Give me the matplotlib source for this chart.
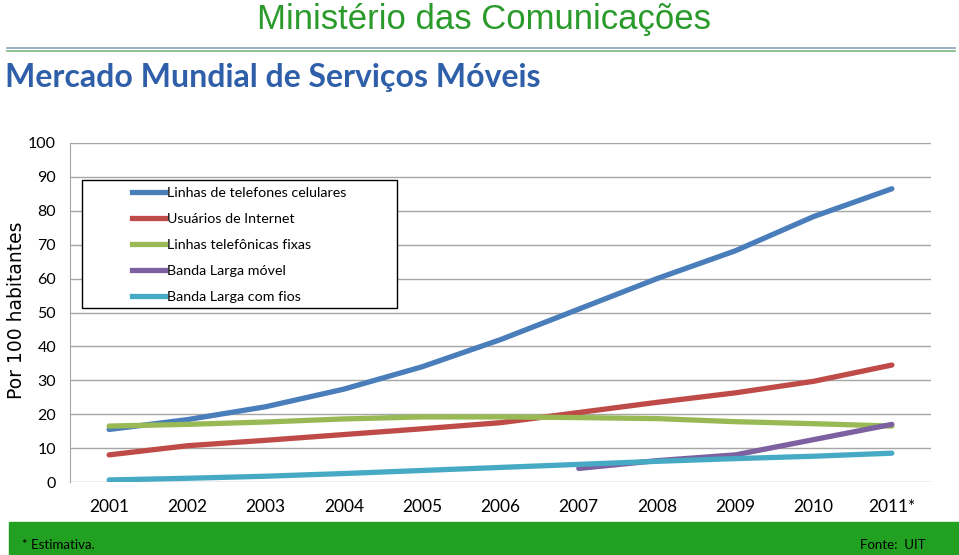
import matplotlib
matplotlib.use("Agg")
import matplotlib.pyplot as plt
from matplotlib.lines import Line2D
import numpy as np

years = ["2001", "2002", "2003", "2004", "2005", "2006", "2007", "2008", "2009", "2010", "2011*"]
celulares = [15.5, 18.4, 22.2, 27.4, 34.0, 42.0, 51.0, 60.0, 68.2, 78.3, 86.5]
internet = [8.0, 10.7, 12.3, 14.0, 15.7, 17.5, 20.5, 23.5, 26.3, 29.7, 34.5]
fixas = [16.5, 17.0, 17.7, 18.6, 19.2, 19.2, 19.0, 18.7, 17.8, 17.2, 16.5]
bl_movel = [None, None, None, None, None, None, 4.0, 6.3, 8.0, 12.5, 17.0]
bl_fios = [0.6, 1.1, 1.7, 2.5, 3.4, 4.3, 5.2, 6.1, 6.9, 7.6, 8.5]
series_names = ["Linhas de telefones celulares", "Usuários de Internet",
                "Linhas telefônicas fixas", "Banda Larga móvel", "Banda Larga com fios"]
yticks = [0, 10, 20, 30, 40, 50, 60, 70, 80, 90, 100]

colors = ["#4a7ebb", "#be4b48", "#98b954", "#7d60a0", "#46aac5"]
W, H = 959, 555
fig = plt.figure(figsize=(W / 100, H / 100), dpi=100)

ax = fig.add_axes([70 / W, 1 - 482 / H, (931 - 70) / W, (482 - 143) / H])
x = np.arange(len(years))
data = [celulares, internet, fixas, bl_movel, bl_fios]
for vals, c in zip(data, colors):
    v = np.array([np.nan if a is None else a for a in vals], dtype=float)
    ax.plot(x, v, color=c, lw=3.8, solid_capstyle="round", solid_joinstyle="round", zorder=3)

ax.set_xlim(-0.5, len(years) - 0.5)
ax.set_ylim(0, 100)
ax.set_yticks(yticks)
ax.set_xticks(x)
ax.set_xticklabels(years)
ax.grid(axis="y", color="#a6a6a6", lw=1.0)
ax.set_axisbelow(True)
for s in ["top", "right", "bottom"]:
    ax.spines[s].set_visible(False)
ax.spines["left"].set_color("#a6a6a6")
ax.tick_params(axis="y", length=0, labelsize=11.5, pad=10)
ax.tick_params(axis="x", length=0, labelsize=12.5, pad=12)
for lab in ax.get_xticklabels() + ax.get_yticklabels():
    lab.set_fontfamily("Lato")

# legend frame drawn manually
fig.patches.append(plt.Rectangle((82 / W, 1 - 308 / H), (397 - 82) / W, (308 - 180) / H,
                                 transform=fig.transFigure, facecolor="white",
                                 edgecolor="black", lw=1.0, zorder=4))
handles = [Line2D([0], [0], color=c, lw=3.8) for c in colors]
leg = fig.legend(handles, series_names, loc="upper left",
                 bbox_to_anchor=(128 / W, 1 - 183 / H),
                 frameon=False, prop={"family": "Lato", "size": 10.3}, handlelength=2.3,
                 labelspacing=0.97, borderpad=0.3, handletextpad=0.1,
                 borderaxespad=0)
leg.set_zorder(5)

fig.text(17 / W, 1 - 310 / H, "Por 100 habitantes", rotation=90, ha="center", va="center",
         fontsize=13.5, family="DejaVu Sans")

# header
fig.text(484 / W, 1 - 19 / H, "Ministério das Comunicações", ha="center", va="center",
         fontsize=25, color="#2a9a2a", family=["Liberation Sans Narrow", "Liberation Sans"])
fig.add_artist(Line2D([7 / W, 955 / W], [1 - 48 / H, 1 - 48 / H], color="#8aa0b8", lw=1.2))
fig.add_artist(Line2D([7 / W, 955 / W], [1 - 51.5 / H, 1 - 51.5 / H], color="#7db87d", lw=1.2))
fig.text(5 / W, 1 - 77 / H, "Mercado Mundial de Serviços Móveis", ha="left", va="center",
         fontsize=23, fontweight="bold", color="#2e5fa8", family="Lato")

# footer
fig.patches.append(plt.Rectangle((9 / W, 0), 1 - 9 / W, (555 - 522) / H,
                                 transform=fig.transFigure, color="#22a022", zorder=0))
fig.text(22 / W, 1 - 545 / H, "* Estimativa.", ha="left", va="center", fontsize=9.5,
         family="Lato", color="black")
fig.text(925 / W, 1 - 545 / H, "Fonte:  UIT", ha="right", va="center", fontsize=9.5,
         family="Lato", color="black")

fig.savefig("out.png", dpi=100)
